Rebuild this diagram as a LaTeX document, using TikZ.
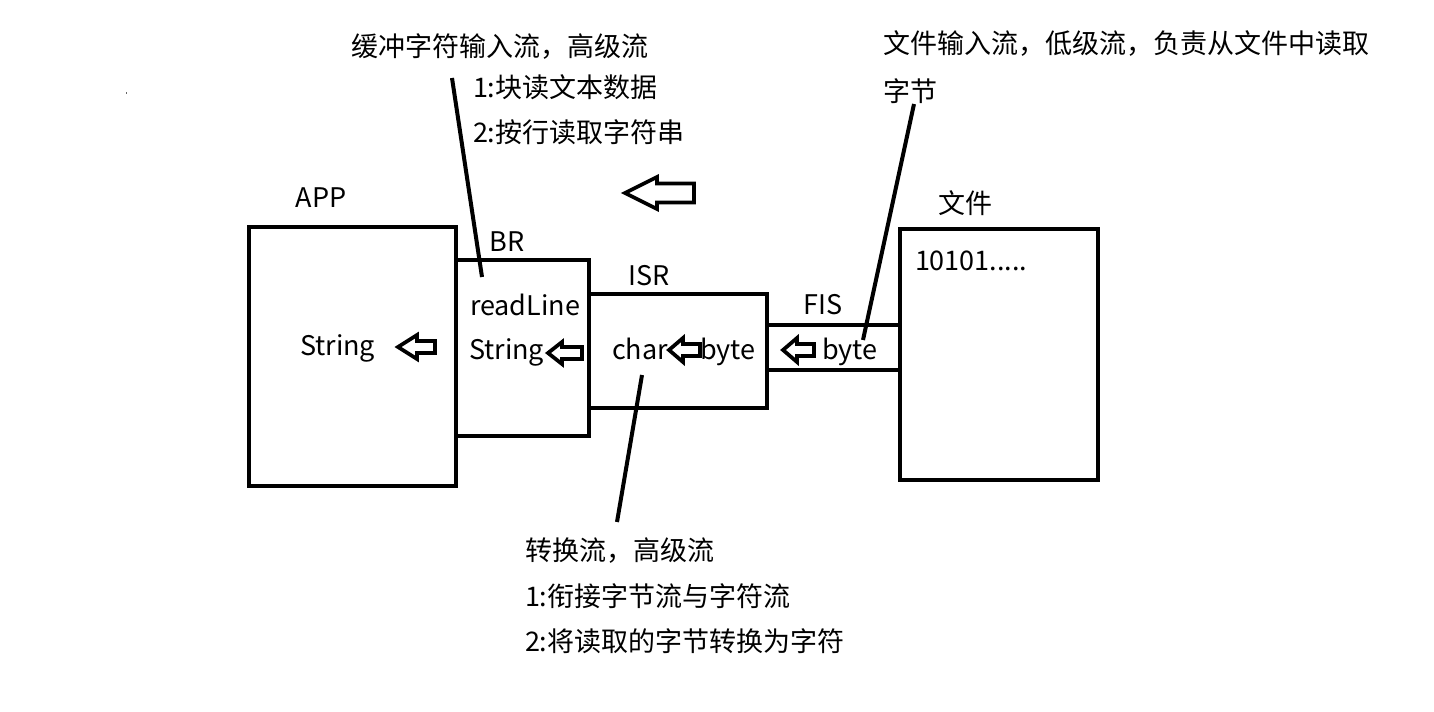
\documentclass[tikz,border=0pt]{standalone}
\usepackage{fontspec}
\setmainfont{Noto Sans CJK SC}
\begin{document}
\begin{tikzpicture}[x=0.75pt,y=-0.75pt,
  box/.style={draw=black,line width=3pt,line join=miter},
  lead/.style={draw=black,line width=3pt},
  harr/.style={draw=black,line width=2.8pt,line join=miter,fill=white},
  lbl/.style={inner sep=0pt,outer sep=0pt,anchor=base west,font=\fontsize{20.25}{24}\selectfont},
  clbl/.style={inner sep=0pt,outer sep=0pt,anchor=base,font=\fontsize{20.25}{24}\selectfont}]
\useasboundingbox[fill=white] (0,0) rectangle (1434,712);
\newcommand\holarrow[6]{% tip x, tip y, head back x, head half h, shaft half h, right x
  \draw[harr] (#1,#2) -- (#3,#2-#4) -- (#3,#2-#5) -- (#6,#2-#5) -- (#6,#2+#5) -- (#3,#2+#5) -- (#3,#2+#4) -- cycle;}
% tiny dot
\fill[black!60] (125.5,92.5) rectangle (127,94);
% boxes
\draw[box] (249,227) rectangle (456,486);
\draw[box] (456,260) -- (589,260) -- (589,436) -- (456,436);
\draw[box] (589,294) -- (767,294) -- (767,408) -- (589,408);
\draw[box] (767,325) -- (900,325);
\draw[box] (767,370) -- (900,370);
\draw[box] (900,229) rectangle (1098,480);
% labels
\node[clbl] (lapp) at (321,208) {APP};
\node[clbl] (lbr) at (507,252) {BR};
\node[clbl] (lisr) at (649,286) {ISR};
\node[clbl] (lfis) at (823,315) {FIS};
\node[clbl] (lfile) at (965,214) {文件};
\node[lbl] (appstr) at (300,356) {String};
\node[lbl] (readline) at (470,316) {readLine};
\node[lbl] (brstr) at (469,360) {String};
\node[lbl] (char) at (612,360) {char};
\node[lbl] (isrbyte) at (700,360) {byte};
\node[lbl] (fisbyte) at (822,360) {byte};
\node[lbl] (bits) at (915,271) {10101.....};
% annotations
\node[lbl] (brn1) at (351,57) {缓冲字符输入流，高级流};
\node[lbl] (brn2) at (473,98) {1:块读文本数据};
\node[lbl] (brn3) at (473,143) {2:按行读取字符串};
\node[lbl] (fisn1) at (883,54) {文件输入流，低级流，负责从文件中读取};
\node[lbl] (fisn2) at (883,102) {字节};
\node[lbl] (isrn1) at (525,560) {转换流，高级流};
\node[lbl] (isrn2) at (525,606) {1:衔接字节流与字符流};
\node[lbl] (isrn3) at (525,651) {2:将读取的字节转换为字符};
% leader lines
\coordinate (brtop) at (452,78);
\coordinate (brend) at (482,277);
\coordinate (fistop) at (914,104);
\coordinate (fisend) at (863,340);
\coordinate (isrtop) at (642,375);
\coordinate (isrend) at (617,522);
\draw[lead] (brtop) -- (brend);
\draw[lead] (fistop) -- (fisend);
\draw[lead] (isrtop) -- (isrend);
% hollow arrows
\holarrow{625}{193}{657}{16}{9.5}{694}
\holarrow{398}{347}{417}{12}{6}{435}
\holarrow{548}{353}{562}{11}{6}{582}
\holarrow{669}{350}{683}{12}{6}{700}
\holarrow{783}{350}{797}{12}{6}{814}
\end{tikzpicture}
\end{document}
